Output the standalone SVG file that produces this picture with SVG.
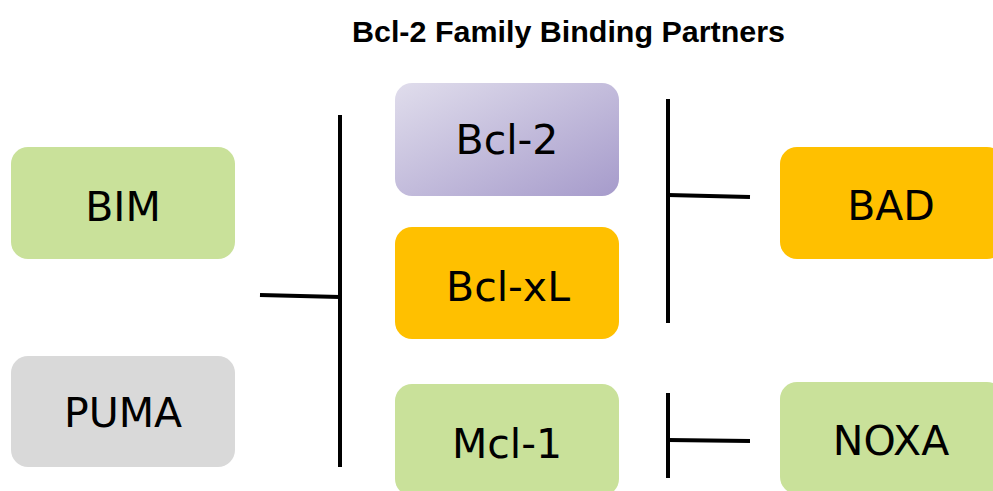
<svg xmlns="http://www.w3.org/2000/svg" width="993" height="491" viewBox="0 0 993 491">
<defs>
<linearGradient id="purple" x1="0" y1="0" x2="1" y2="1">
<stop offset="0" stop-color="#e0ddec"/>
<stop offset="1" stop-color="#a69bcb"/>
</linearGradient>
</defs>
<style>
.box{stroke:none}
.green{fill:#c9e19a}
.orange{fill:#ffc000}
.gray{fill:#d9d9d9}
.lbl{font-family:"DejaVu Sans",Verdana,sans-serif;font-size:41px;fill:#000;text-anchor:middle}
.title{font-family:"Liberation Sans",Arial,sans-serif;font-size:29px;font-weight:bold;fill:#000;text-anchor:middle}
.ln{stroke:#000;stroke-width:4;fill:none}
</style>
<rect width="993" height="491" fill="#fff"/>
<text class="title" x="568.5" y="42" textLength="433" lengthAdjust="spacingAndGlyphs">Bcl-2 Family Binding Partners</text>
<g id="BIM"><rect class="box green" x="11" y="147" width="224" height="112" rx="17"/><text class="lbl" x="123" y="221">BIM</text></g>
<g id="PUMA"><rect class="box gray" x="11" y="356" width="224" height="111" rx="17"/><text class="lbl" x="123" y="427">PUMA</text></g>
<g id="Bcl-2"><rect class="box" fill="url(#purple)" x="395" y="83" width="224" height="113" rx="17"/><text class="lbl" x="507" y="154">Bcl-2</text></g>
<g id="Bcl-xL"><rect class="box orange" x="395" y="227" width="224" height="112" rx="17"/><text class="lbl" x="508" y="301">Bcl-xL</text></g>
<g id="Mcl-1"><rect class="box green" x="395" y="384" width="224" height="112" rx="17"/><text class="lbl" x="507" y="458">Mcl-1</text></g>
<g id="BAD"><rect class="box orange" x="780" y="147" width="224" height="112" rx="17"/><text class="lbl" x="891" y="220">BAD</text></g>
<g id="NOXA"><rect class="box green" x="780" y="382" width="224" height="112" rx="17"/><text class="lbl" x="891" y="455">NOXA</text></g>
<g id="connectors">
<line class="ln" x1="340" y1="115" x2="340" y2="467"/>
<line class="ln" x1="260" y1="295" x2="340" y2="297"/>
<line class="ln" x1="668" y1="99" x2="668" y2="323"/>
<line class="ln" x1="668" y1="195" x2="750" y2="197"/>
<line class="ln" x1="668" y1="393" x2="668" y2="478"/>
<line class="ln" x1="668" y1="440" x2="750" y2="441"/>
</g>
</svg>
